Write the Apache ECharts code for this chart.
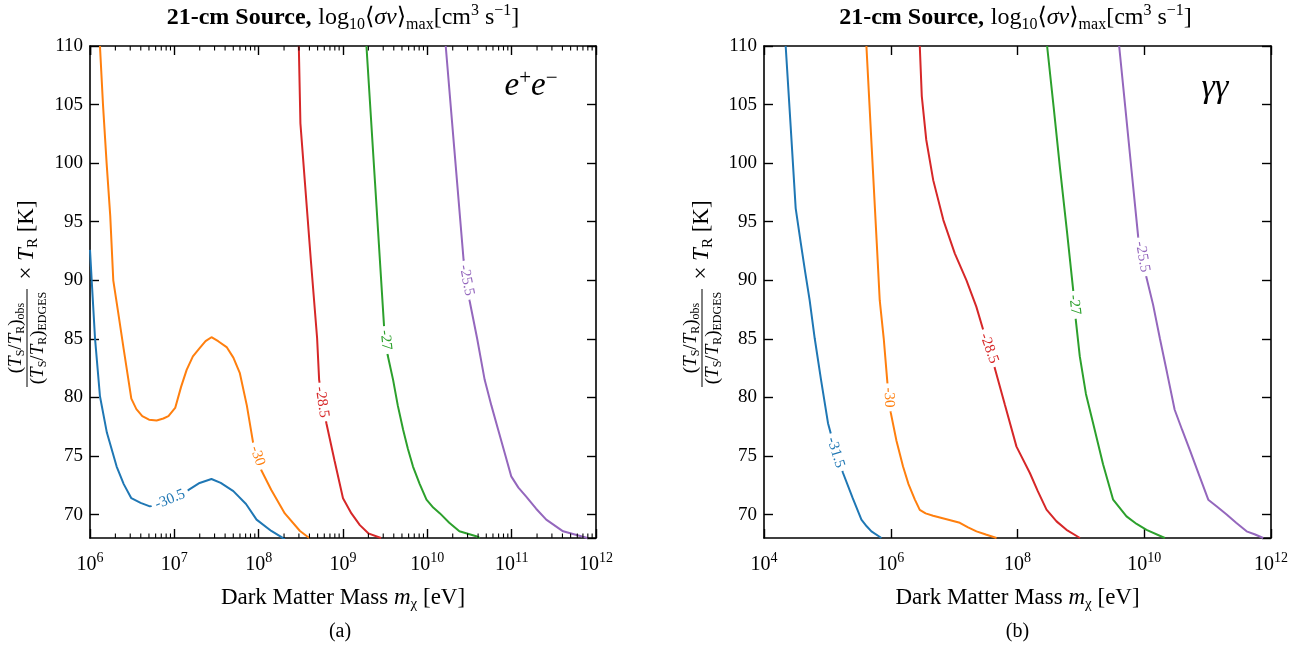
<!DOCTYPE html>
<html><head><meta charset="utf-8">
<script src="https://cdn.jsdelivr.net/npm/echarts@6/dist/echarts.min.js"></script>
<style>html,body{margin:0;padding:0;background:#fff}#c{width:1306px;height:648px}</style>
</head><body><div id="c"></div>
<script>
const FONT = "'Liberation Serif','DejaVu Serif',serif";
const C = {blue:'#1f77b4', orange:'#ff7f0e', green:'#2ca02c', red:'#d62728', purple:'#9467bd'};

// ---------- Panel (a) e+e- : log10(mass/eV) and T values ----------
const eeBlueLogM = [6.0, 6.02, 6.06, 6.118, 6.2, 6.316, 6.4, 6.49, 6.6, 6.71, 6.85, 7.0, 7.146, 7.3, 7.44, 7.55, 7.70, 7.85, 7.975, 8.15, 8.31];
const eeBlueT    = [92.6, 90.0, 85.0, 80.1, 77.0, 74.1, 72.6, 71.4, 71.0, 70.7, 70.9, 71.4, 72.0, 72.7, 73.04, 72.7, 72.0, 70.9, 69.57, 68.6, 67.9];
const eeOrangeLogM = [6.118, 6.154, 6.197, 6.24, 6.276, 6.33, 6.40, 6.49, 6.55, 6.62, 6.70, 6.79, 6.87, 6.93, 7.01, 7.08, 7.146, 7.22, 7.30, 7.37, 7.44, 7.52, 7.62, 7.70, 7.777, 7.86, 7.935, 8.03, 8.15, 8.31, 8.49, 8.6];
const eeOrangeT    = [110, 105, 100, 95.5, 90.0, 87.45, 84.1, 79.9, 79.0, 78.4, 78.1, 78.03, 78.2, 78.4, 79.1, 80.9, 82.35, 83.5, 84.2, 84.8, 85.14, 84.8, 84.3, 83.4, 82.07, 79.3, 76.1, 73.8, 72.1, 70.1, 68.6, 68.0];
const eeRedLogM = [8.476, 8.495, 8.55, 8.62, 8.693, 8.717, 8.76, 8.803, 8.90, 9.0, 9.1, 9.2, 9.30, 9.45];
const eeRedT    = [110, 103.4, 98.2, 91.6, 85.05, 81.5, 79.5, 77.8, 74.6, 71.4, 70.1, 69.1, 68.4, 68.0];
const eeGreenLogM = [9.278, 9.38, 9.487, 9.53, 9.594, 9.65, 9.713, 9.77, 9.83, 9.91, 9.99, 10.07, 10.15, 10.26, 10.38, 10.58, 10.62];
const eeGreenT    = [110, 98.3, 86.05, 83.6, 81.5, 79.3, 77.24, 75.6, 74.1, 72.6, 71.27, 70.6, 70.1, 69.3, 68.57, 68.15, 68.0];
const eePurpleLogM = [10.218, 10.32, 10.43, 10.50, 10.59, 10.68, 10.76, 10.84, 10.92, 10.995, 11.08, 11.17, 11.29, 11.41, 11.61, 11.845, 11.9];
const eePurpleT    = [110, 101.2, 91.73, 88.3, 85.05, 81.5, 79.3, 77.24, 75.2, 73.26, 72.3, 71.55, 70.5, 69.57, 68.57, 68.1, 68.0];
const eeLabelText = ['-30.5', '-30', '-28.5', '-27', '-25.5'];
const eeLabelLogM = [6.95, 7.985, 8.75, 9.505, 10.465];
const eeLabelT    = [71.3, 75.0, 79.6, 84.9, 90.0];
const eeLabelRot  = [22, -72, -82, -84, -79];

// ---------- Panel (b) gamma gamma ----------
const ggBlueLogM = [4.342, 4.42, 4.50, 4.58, 4.65, 4.72, 4.80, 4.90, 5.01, 5.06, 5.15, 5.247, 5.40, 5.537, 5.62, 5.695, 5.853];
const ggBlueT    = [110, 103.2, 96.14, 93.2, 90.7, 88.3, 85.05, 81.5, 77.8, 76.8, 75.2, 73.55, 71.4, 69.57, 69.0, 68.57, 68.0];
const ggOrangeLogM = [5.616, 5.70, 5.78, 5.826, 5.889, 5.948, 6.0, 6.09, 6.194, 6.28, 6.379, 6.458, 6.55, 6.668, 6.88, 7.09, 7.22, 7.353, 7.50, 7.669];
const ggOrangeT    = [110, 101.3, 93.1, 88.3, 85.05, 81.2, 78.7, 76.3, 74.1, 72.6, 71.3, 70.4, 70.1, 69.9, 69.6, 69.3, 68.9, 68.57, 68.3, 68.0];
const ggRedLogM = [6.458, 6.49, 6.56, 6.67, 6.83, 7.01, 7.195, 7.35, 7.457, 7.642, 7.80, 7.984, 8.195, 8.32, 8.458, 8.616, 8.773, 8.986];
const ggRedT    = [110, 105.7, 102.0, 98.55, 95.14, 92.3, 90.0, 87.75, 85.8, 82.5, 79.4, 75.8, 73.55, 72.0, 70.42, 69.42, 68.7, 68.0];
const ggGreenLogM = [8.467, 8.57, 8.67, 8.78, 8.878, 8.92, 8.983, 9.08, 9.193, 9.35, 9.509, 9.72, 9.88, 10.036, 10.325];
const ggGreenT    = [110, 104.8, 99.6, 94.2, 89.2, 86.6, 83.5, 80.3, 77.8, 74.3, 71.27, 69.85, 69.2, 68.7, 68.0];
const ggPurpleLogM = [9.604, 9.70, 9.80, 9.904, 10.01, 10.14, 10.246, 10.36, 10.48, 10.60, 10.72, 10.86, 11.01, 11.15, 11.30, 11.45, 11.615, 11.75, 11.877];
const ggPurpleT    = [110, 104.8, 99.35, 93.72, 90.8, 87.9, 85.05, 82.1, 78.95, 77.2, 75.5, 73.46, 71.27, 70.66, 70.0, 69.3, 68.57, 68.3, 68.0];
const ggLabelText = ['-31.5', '-30', '-28.5', '-27', '-25.5'];
const ggLabelLogM = [5.13, 5.97, 7.55, 8.90, 9.97];
const ggLabelT    = [75.3, 80.0, 84.2, 87.9, 92.0];
const ggLabelRot  = [-73, -87, -70, -84, -80];

const yTicksMin = 68, yTicksMax = 110;
const eeMassRange = [1e6, 1e12];
const ggMassRange = [1e4, 1e12];
const contourColors = [C.blue, C.orange, C.red, C.green, C.purple];

// ---------- build ----------
function pts(logM, T) { return logM.map((e, i) => [Math.pow(10, e), T[i]]); }
function lineSeries(idx, logM, T, color) {
  return {type:'line', xAxisIndex: idx*2, yAxisIndex: idx*2, data: pts(logM, T), symbol:'none', showSymbol:false,
    lineStyle:{color, width:2}, itemStyle:{color}, clip:true, animation:false, z:2};
}
function labelSeries(idx, text, logM, T, rot, colors) {
  return {type:'scatter', xAxisIndex: idx*2, yAxisIndex: idx*2, symbol:'circle', symbolSize:1,
    itemStyle:{color:'rgba(255,255,255,0)'}, z:5, animation:false, silent:true,
    labelLayout:{hideOverlap:false},
    data: text.map((t, i) => ({value:[Math.pow(10, logM[i]), T[i]],
      label:{show:true, position:'inside', formatter:t, rotate:rot[i], color:colors[i], fontFamily:FONT, fontSize:15,
        backgroundColor:'#fff', padding:[0,4], opacity:1}}))};
}
const richBase = {
  n:{fontFamily:FONT, fontSize:23, lineHeight:28, color:'#000'},
  i:{fontFamily:FONT, fontSize:23, lineHeight:28, fontStyle:'italic', color:'#000'},
  s:{fontFamily:FONT, fontSize:15, lineHeight:15, verticalAlign:'top', color:'#000'},
  sub:{fontFamily:FONT, fontSize:15, lineHeight:15, verticalAlign:'bottom', color:'#000'}
};
function xAxisDef(grid, range, pos, showLabel, interval) {
  const a = {type:'log', logBase:10, gridIndex:grid, position:pos, min:range[0], max:range[1],
    axisLine:{show:true, onZero:false, lineStyle:{color:'#000', width:1.6}},
    axisTick:{show:true, inside:true, length:9, lineStyle:{color:'#000', width:1.4}},
    splitLine:{show:false},
    axisLabel:{show:showLabel, margin:13, formatter: v => '{b|10}{s|' + Math.round(Math.log10(v)) + '}',
      rich:{b:{fontFamily:FONT, fontSize:20, lineHeight:27, color:'#000'}, s:{fontFamily:FONT, fontSize:14, lineHeight:14, verticalAlign:'top', color:'#000'}}}};
  if (interval) a.interval = interval;
  if (showLabel) {
    a.name = '{n|Dark Matter Mass }{i|m}{sub|χ}{n| [eV]}';
    a.nameLocation = 'middle'; a.nameGap = 46;
    a.nameTextStyle = {rich: richBase};
  }
  return a;
}
function yAxisDef(grid, pos, showLabel) {
  return {type:'value', gridIndex:grid, position:pos, min:yTicksMin, max:yTicksMax, splitNumber:8,
    axisLine:{show:true, onZero:false, lineStyle:{color:'#000', width:1.6}},
    axisTick:{show:true, inside:true, length:9, lineStyle:{color:'#000', width:1.4}},
    splitLine:{show:false},
    axisLabel:{show:showLabel, margin:7, showMinLabel:false, fontFamily:FONT, fontSize:19, color:'#000'}};
}

function titleText(x) {
  return {type:'text', x:x, y:18, style:{text:'{b|21-cm Source,}  {n|log}{sub|10}{n|⟨}{i|σv}{n|⟩}{sub|max}{n|[cm}{s|3}{n| s}{s|−1}{n|]}',
    textAlign:'center', textVerticalAlign:'middle',
    rich:{b:{fontFamily:FONT, fontSize:24, lineHeight:30, fontWeight:'bold', fill:'#000'},
      n:{fontFamily:FONT, fontSize:24, lineHeight:30, fill:'#000'},
      i:{fontFamily:FONT, fontSize:24, lineHeight:30, fontStyle:'italic', fill:'#000'},
      s:{fontFamily:FONT, fontSize:16, lineHeight:16, verticalAlign:'top', fill:'#000'},
      sub:{fontFamily:FONT, fontSize:16, lineHeight:16, verticalAlign:'bottom', fill:'#000'}}}};
}
function yLabel(cx, cy) {
  const rs = {
    n:{fontFamily:FONT, fontSize:19, lineHeight:22, fill:'#000'},
    i:{fontFamily:FONT, fontSize:19, lineHeight:22, fontStyle:'italic', fill:'#000'},
    sub:{fontFamily:FONT, fontSize:12, lineHeight:12, verticalAlign:'bottom', fill:'#000'},
    N:{fontFamily:FONT, fontSize:23, lineHeight:28, fill:'#000'},
    I:{fontFamily:FONT, fontSize:23, lineHeight:28, fontStyle:'italic', fill:'#000'},
    SUB:{fontFamily:FONT, fontSize:15, lineHeight:15, verticalAlign:'bottom', fill:'#000'}
  };
  return {type:'group', x:cx, y:cy, rotation:Math.PI/2, children:[
    {type:'text', x:-46, y:-11, style:{text:'{n|(}{i|T}{sub|S}{n|/}{i|T}{sub|R}{n|)}{sub|obs}', textAlign:'center', textVerticalAlign:'middle', rich:rs}},
    {type:'line', shape:{x1:-95, y1:0, x2:3, y2:0}, style:{stroke:'#000', lineWidth:1}},
    {type:'text', x:-46, y:11, style:{text:'{n|(}{i|T}{sub|S}{n|/}{i|T}{sub|R}{n|)}{sub|EDGES}', textAlign:'center', textVerticalAlign:'middle', rich:rs}},
    {type:'text', x:52, y:0, style:{text:'{N|× }{I|T}{SUB|R}{N| [K]}', textAlign:'center', textVerticalAlign:'middle', rich:rs}}
  ]};
}

const chart = echarts.init(document.getElementById('c'), null, {renderer:'canvas'});
const option = {
  animation:false,
  backgroundColor:'#fff',
  grid:[{left:90, top:46, width:506, height:492}, {left:764, top:46, width:507, height:492}],
  xAxis:[xAxisDef(0, eeMassRange, 'bottom', true), xAxisDef(0, eeMassRange, 'top', false),
         xAxisDef(1, ggMassRange, 'bottom', true, 2), xAxisDef(1, ggMassRange, 'top', false, 2)],
  yAxis:[yAxisDef(0, 'left', true), yAxisDef(0, 'right', false), yAxisDef(1, 'left', true), yAxisDef(1, 'right', false)],
  series:[
    lineSeries(0, eeBlueLogM, eeBlueT, C.blue),
    lineSeries(0, eeOrangeLogM, eeOrangeT, C.orange),
    lineSeries(0, eeRedLogM, eeRedT, C.red),
    lineSeries(0, eeGreenLogM, eeGreenT, C.green),
    lineSeries(0, eePurpleLogM, eePurpleT, C.purple),
    labelSeries(0, eeLabelText, eeLabelLogM, eeLabelT, eeLabelRot, contourColors),
    lineSeries(1, ggBlueLogM, ggBlueT, C.blue),
    lineSeries(1, ggOrangeLogM, ggOrangeT, C.orange),
    lineSeries(1, ggRedLogM, ggRedT, C.red),
    lineSeries(1, ggGreenLogM, ggGreenT, C.green),
    lineSeries(1, ggPurpleLogM, ggPurpleT, C.purple),
    labelSeries(1, ggLabelText, ggLabelLogM, ggLabelT, ggLabelRot, contourColors)
  ]
};
chart.setOption(option);

// minor log ticks for panel (a), placed through the axis scale
const minor = [];
const yb = chart.convertToPixel({yAxisIndex:0}, yTicksMin);
const yt = chart.convertToPixel({yAxisIndex:0}, yTicksMax);
for (let d = 6; d < 12; d++) {
  for (let k = 2; k <= 9; k++) {
    const px = chart.convertToPixel({xAxisIndex:0}, k * Math.pow(10, d));
    minor.push({type:'line', shape:{x1:px, y1:yb, x2:px, y2:yb-4.5}, style:{stroke:'#000', lineWidth:1.1}, z:10});
    minor.push({type:'line', shape:{x1:px, y1:yt, x2:px, y2:yt+4.5}, style:{stroke:'#000', lineWidth:1.1}, z:10});
  }
}
const gx0 = chart.convertToPixel({xAxisIndex:0}, eeMassRange[0]);
const gx1 = chart.convertToPixel({xAxisIndex:0}, eeMassRange[1]);
const hx0 = chart.convertToPixel({xAxisIndex:2}, ggMassRange[0]);
const hx1 = chart.convertToPixel({xAxisIndex:2}, ggMassRange[1]);
const texts = [
  titleText((gx0 + gx1) / 2),
  titleText((hx0 + hx1) / 2 - 2),
  {type:'text', x:(gx0+gx1)/2 - 3, y:632, style:{text:'(a)', font:'20px ' + FONT, fill:'#000', textAlign:'center', textVerticalAlign:'middle'}},
  {type:'text', x:(hx0+hx1)/2, y:632, style:{text:'(b)', font:'20px ' + FONT, fill:'#000', textAlign:'center', textVerticalAlign:'middle'}},
  {type:'text', x:531, y:86, style:{text:'{i|e}{s|+}{i|e}{s|−}', textAlign:'center', textVerticalAlign:'middle',
    rich:{i:{fontFamily:FONT, fontSize:33, lineHeight:36, fontStyle:'italic', fill:'#000'}, s:{fontFamily:FONT, fontSize:21, lineHeight:21, verticalAlign:'top', fill:'#000'}}}},
  {type:'text', x:1215, y:88, style:{text:'γγ', font:'italic 34px ' + FONT, fill:'#000', textAlign:'center', textVerticalAlign:'middle'}},
  yLabel(27, 292),
  yLabel(702, 292)
];
chart.setOption({graphic: minor.concat(texts)});
</script></body></html>
